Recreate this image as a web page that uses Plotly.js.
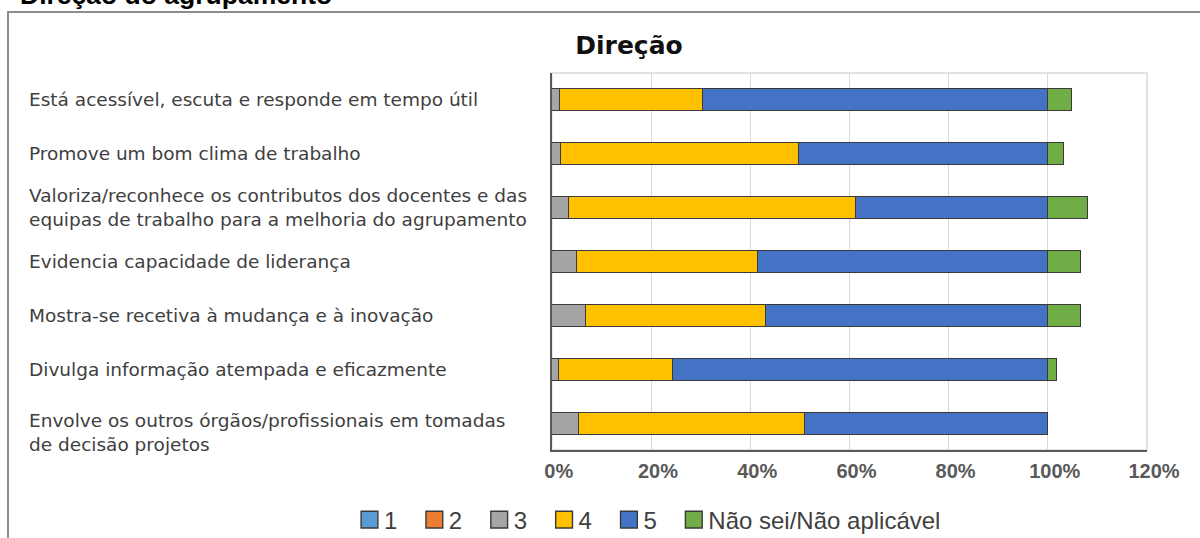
<!DOCTYPE html>
<html>
<head>
<meta charset="utf-8">
<script src="https://cdn.plot.ly/plotly-3.0.1.min.js"></script>
<style>html,body{margin:0;padding:0;background:#fff;}#chart{width:1200px;height:538px;}</style>
</head>
<body>
<div id="chart"></div>
<script>
// ---- data ----
const categories = [
  "Está acessível, escuta e responde em tempo útil",
  "Promove um bom clima de trabalho",
  "Valoriza/reconhece os contributos dos docentes e das<br>equipas de trabalho para a melhoria do agrupamento",
  "Evidencia capacidade de liderança",
  "Mostra-se recetiva à mudança e à inovação",
  "Divulga informação atempada e eficazmente",
  "Envolve os outros órgãos/profissionais em tomadas<br>de decisão projetos"
];
const seriesNames = ["1", "2", "3", "4", "5", "Não sei/Não aplicável"];
const s1 = [0, 0, 0, 0, 0, 0, 0];
const s2 = [0, 0, 0, 0, 0, 0, 0];
const s3 = [1.6, 1.7, 3.4, 5.0, 6.8, 1.4, 5.4];
const s4 = [28.8, 48.1, 57.9, 36.4, 36.2, 23.0, 45.5];
const s5 = [69.6, 50.2, 38.7, 58.6, 57.0, 75.6, 49.1];
const sNS = [4.8, 3.2, 8.1, 6.5, 6.5, 1.7, 0];
const xTicks = [0, 20, 40, 60, 80, 100, 120];
const chartTitle = "Direção";
const pageHeading = "Direção do agrupamento";

// ---- styles ----
const colors = ["#5B9BD5", "#ED7D31", "#A5A5A5", "#FFC000", "#4472C4", "#70AD47"];
const allSeries = [s1, s2, s3, s4, s5, sNS];

const W = 1200, H = 538;
const plotL = 551.8, plotR = 1147, plotT = 73, plotB = 450;

const traces = allSeries.map((vals, i) => ({
  type: "bar",
  orientation: "h",
  name: seriesNames[i],
  x: vals,
  y: categories,
  marker: { color: colors[i], line: { color: "#3a3a3a", width: 1 } },
  hoverinfo: "skip"
}));

const annotations = categories.map((c, i) => ({
  xref: "paper", yref: "y",
  x: 27 / W, y: c,
  xanchor: "left", yanchor: "middle",
  yshift: i === categories.length - 1 ? -9 : 0,
  align: "left",
  text: c,
  showarrow: false,
  font: { family: "DejaVu Sans", size: 18.5, color: "#404040" }
}));
annotations.push({
  xref: "paper", yref: "paper",
  x: 18 / W, y: 1 - 12 / H,
  xanchor: "left", yanchor: "bottom",
  text: "<b>" + pageHeading + "</b>",
  showarrow: false,
  font: { family: "Liberation Sans, Arial", size: 26.5, color: "#000" }
});

const layout = {
  width: W, height: H,
  margin: { l: 0, r: 0, t: 0, b: 0, pad: 0, autoexpand: false },
  paper_bgcolor: "#fff",
  plot_bgcolor: "#fff",
  barmode: "stack",
  bargap: 0.59,
  showlegend: true,
  title: {
    text: chartTitle,
    font: { family: "DejaVu Sans", size: 25, weight: "bold", color: "#111" },
    x: 629 / W, xanchor: "center", xref: "paper",
    y: 1 - 45 / H, yanchor: "middle", yref: "paper"
  },
  xaxis: {
    domain: [plotL / W, plotR / W],
    range: [0, 120],
    tickvals: xTicks,
    ticktext: xTicks.map(v => v + "%"),
    showgrid: true, gridcolor: "#d9d9d9", gridwidth: 1,
    zeroline: false,
    showline: true, linecolor: "#595959", linewidth: 1.5,
    ticks: "",
    ticklabelshift: 7,
    ticklabelstandoff: 2,
    automargin: false,
    tickfont: { family: "Liberation Sans, Arial", size: 20, weight: "bold", color: "#595959" },
    fixedrange: true
  },
  yaxis: {
    domain: [(H - plotB) / H, (H - plotT) / H],
    autorange: "reversed",
    showticklabels: false,
    showgrid: false,
    zeroline: false,
    showline: true, linecolor: "#595959", linewidth: 1.5,
    ticks: "",
    fixedrange: true
  },
  legend: {
    orientation: "h",
    traceorder: "normal",
    itemwidth: 33,
    x: 341 / W, xanchor: "left",
    y: (H - 520) / H, yanchor: "middle",
    font: { family: "Liberation Sans, Arial", size: 24, color: "#404040" },
    bgcolor: "rgba(0,0,0,0)"
  },
  shapes: [
    {
      type: "rect", xref: "x domain", yref: "y domain",
      x0: 0, x1: 1, y0: 0, y1: 1,
      line: { color: "#d9d9d9", width: 1.5 }, layer: "below"
    },
    {
      type: "rect", xref: "paper", yref: "paper",
      x0: 8 / W, x1: 1.05, y0: -0.05, y1: 1 - 12 / H,
      line: { color: "#8c8c8c", width: 2 }, layer: "below"
    }
  ],
  annotations: annotations
};

Plotly.newPlot("chart", traces, layout, { staticPlot: true, displayModeBar: false }).then(gd => {
  // enlarge legend swatches to match the reference's bigger squares
  gd.querySelectorAll(".legend .legendpoints path").forEach(p => {
    const t = p.getAttribute("transform") || "";
    p.setAttribute("transform", "translate(7,0) " + t + " scale(1.4)");
  });
  // widen spacing between legend entries slightly
  gd.querySelectorAll(".legend .traces").forEach((g, i) => {
    const t = g.getAttribute("transform") || "";
    g.setAttribute("transform", t + " translate(" + (i * 3.5) + ",0)");
  });
  // let the widened legend show in full
  gd.querySelectorAll(".legend [clip-path]").forEach(el => el.removeAttribute("clip-path"));
  const leg = gd.querySelector(".legend");
  if (leg) leg.removeAttribute("clip-path");
});
</script>
</body>
</html>
